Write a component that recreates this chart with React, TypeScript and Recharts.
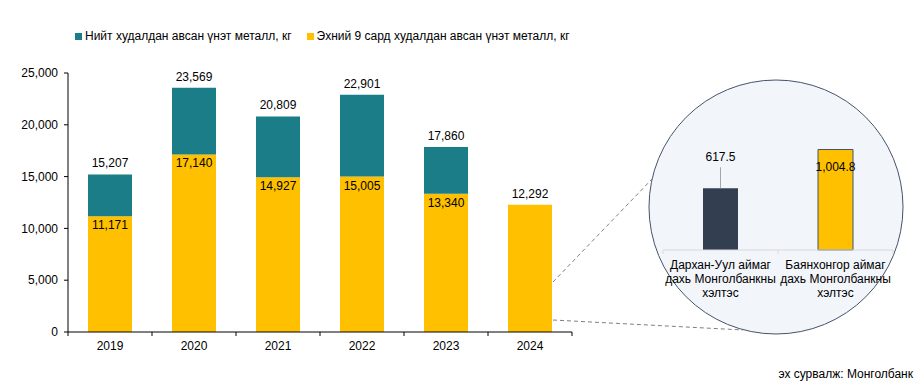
import React from 'react';
import { BarChart, Bar, XAxis, YAxis, Cell, LabelList } from 'recharts';

// main chart data
const YEARS = ['2019', '2020', '2021', '2022', '2023', '2024'];
const TOTAL = [15207, 23569, 20809, 22901, 17860, 12292];
const NINE_MONTHS = [11171, 17140, 14927, 15005, 13340, 12292];
const Y_TICKS = [0, 5000, 10000, 15000, 20000, 25000];

// zoom-in (2024 by branch)
const BRANCHES = [
  ['Дархан-Уул аймаг', 'дахь Монголбанкны', 'хэлтэс'],
  ['Баянхонгор аймаг', 'дахь Монголбанкны', 'хэлтэс'],
];
const BRANCH_VALUES = [617.5, 1004.8];

const LEGEND = ['Нийт худалдан авсан үнэт металл, кг', 'Эхний 9 сард худалдан авсан үнэт металл, кг'];

const TEAL = '#1B7D88';
const GOLD = '#FFC000';
const SLATE = '#333F50';
const FONT = '"Liberation Sans", Arial, sans-serif';

const mainData = YEARS.map((year, i) => ({
  year,
  nine: NINE_MONTHS[i],
  rest: TOTAL[i] - NINE_MONTHS[i],
  total: TOTAL[i],
}));

const branchData = BRANCHES.map((lines, i) => ({ name: lines.join(' '), lines, value: BRANCH_VALUES[i] }));

const fmt = (v: number) => v.toLocaleString('en-US');

// category axis tick with boundary marks instead of centre marks
function BoundaryTick(props: any) {
  const { x, y, payload, index, lines, stroke, count, base } = props;
  const half = payload?.offset ?? 0;
  const text: string[] = lines ? lines(index) : [payload.value];
  const y0 = y - base;
  return (
    <g>
      <line x1={x - half} x2={x - half} y1={y0} y2={y0 + 4} stroke={stroke} />
      {index === count - 1 && <line x1={x + half} x2={x + half} y1={y0} y2={y0 + 4} stroke={stroke} />}
      <text x={x} y={y} textAnchor="middle" fill="#000" fontSize={12} fontFamily={FONT}>
        {text.map((t, k) => (
          <tspan key={k} x={x} dy={k === 0 ? '0.9em' : 14}>{t}</tspan>
        ))}
      </text>
    </g>
  );
}

function TotalLabel(props: any) {
  const { x, y, width, value } = props;
  return (
    <text x={x + width / 2} y={y - 7} textAnchor="middle" fill="#000" fontSize={12} fontFamily={FONT}>
      {fmt(value)}
    </text>
  );
}

// 9-month label sits inside the top of the gold bar; with no remainder it is the total, above the bar
function NineLabel(props: any) {
  const { x, y, width, value, index } = props;
  const onTop = mainData[index].rest === 0;
  return (
    <text x={x + width / 2} y={onTop ? y - 7 : y + 13} textAnchor="middle" fill="#000" fontSize={12} fontFamily={FONT}>
      {fmt(value)}
    </text>
  );
}

function BranchLabel(props: any) {
  const { x, y, width, value, index } = props;
  const cx = x + width / 2;
  const txt = value.toLocaleString('en-US', { minimumFractionDigits: 1 });
  if (index === 0) {
    return (
      <g>
        <line x1={cx} x2={cx} y1={y - 21} y2={y} stroke="#A6A6A6" />
        <text x={cx} y={y - 27} textAnchor="middle" fill="#000" fontSize={12} fontFamily={FONT}>{txt}</text>
      </g>
    );
  }
  return (
    <text x={cx} y={y + 21} textAnchor="middle" fill="#000" fontSize={12} fontFamily={FONT}>{txt}</text>
  );
}

export default function App() {
  return (
    <div style={{ position: 'absolute', left: 0, top: 0, width: 920, height: 387, background: '#fff', fontFamily: FONT }}>
      {/* legend */}
      <div style={{ position: 'absolute', left: 75, top: 29, display: 'flex', alignItems: 'center', fontSize: 12, color: '#000', whiteSpace: 'nowrap' }}>
        <span style={{ width: 7, height: 7, background: TEAL, marginRight: 3 }} />
        <span style={{ marginRight: 15 }}>{LEGEND[0]}</span>
        <span style={{ width: 7, height: 7, background: GOLD, marginRight: 3 }} />
        <span>{LEGEND[1]}</span>
      </div>

      <div style={{ position: 'absolute', left: 0, top: 0 }}>
        <BarChart width={920} height={387} data={mainData}
          margin={{ top: 73, right: 348, bottom: 35, left: 8 }} barCategoryGap={20}>
          <XAxis dataKey="year" axisLine={{ stroke: '#000' }} tickLine={false} height={20}
            tick={<BoundaryTick stroke="#000" count={YEARS.length} base={7} />} tickMargin={1} interval={0} />
          <YAxis width={60} domain={[0, 25000]} ticks={Y_TICKS} tickFormatter={fmt}
            axisLine={{ stroke: '#000' }} tickLine={{ stroke: '#000' }} tickSize={4} tickMargin={6}
            tick={{ fill: '#000', fontSize: 12, fontFamily: FONT }} />
          <Bar dataKey="nine" stackId="a" fill={GOLD} isAnimationActive={false}>
            <LabelList dataKey="nine" content={<NineLabel />} />
          </Bar>
          <Bar dataKey="rest" stackId="a" fill={TEAL} isAnimationActive={false}>
            <LabelList dataKey="total" content={<TotalLabel />} />
          </Bar>
        </BarChart>
      </div>

      {/* zoom circle + connectors */}
      <svg width={920} height={387} style={{ position: 'absolute', left: 0, top: 0 }}>
        <circle cx={776} cy={207} r={127} fill="#F2F5FA" stroke="#44546A" strokeWidth={1} />
        <line x1={553} y1={282} x2={653} y2={178} stroke="#7F7F7F" strokeDasharray="4 3" />
        <line x1={553} y1={320} x2={743} y2={330} stroke="#7F7F7F" strokeDasharray="4 3" />
      </svg>

      <div style={{ position: 'absolute', left: 640, top: 100 }}>
        <BarChart width={280} height={230} data={branchData}
          margin={{ top: 30, right: 27, bottom: 20, left: 23 }}>
          <XAxis dataKey="name" axisLine={{ stroke: '#D9D9D9' }} tickLine={false} height={60} interval={0}
            tick={<BoundaryTick stroke="#D9D9D9" count={BRANCHES.length} base={8} lines={(i: number) => BRANCHES[i]} />}
            tickMargin={2} />
          <YAxis hide domain={[0, 1200]} />
          <Bar dataKey="value" barSize={35} isAnimationActive={false}>
            {branchData.map((_, i) => (
              <Cell key={i} fill={i === 0 ? SLATE : GOLD} stroke={i === 0 ? 'none' : '#44546A'} />
            ))}
            <LabelList dataKey="value" content={<BranchLabel />} />
          </Bar>
        </BarChart>
      </div>

      <div style={{ position: 'absolute', right: 7, top: 367, fontSize: 12, color: '#000' }}>эх сурвалж: Монголбанк</div>
    </div>
  );
}
